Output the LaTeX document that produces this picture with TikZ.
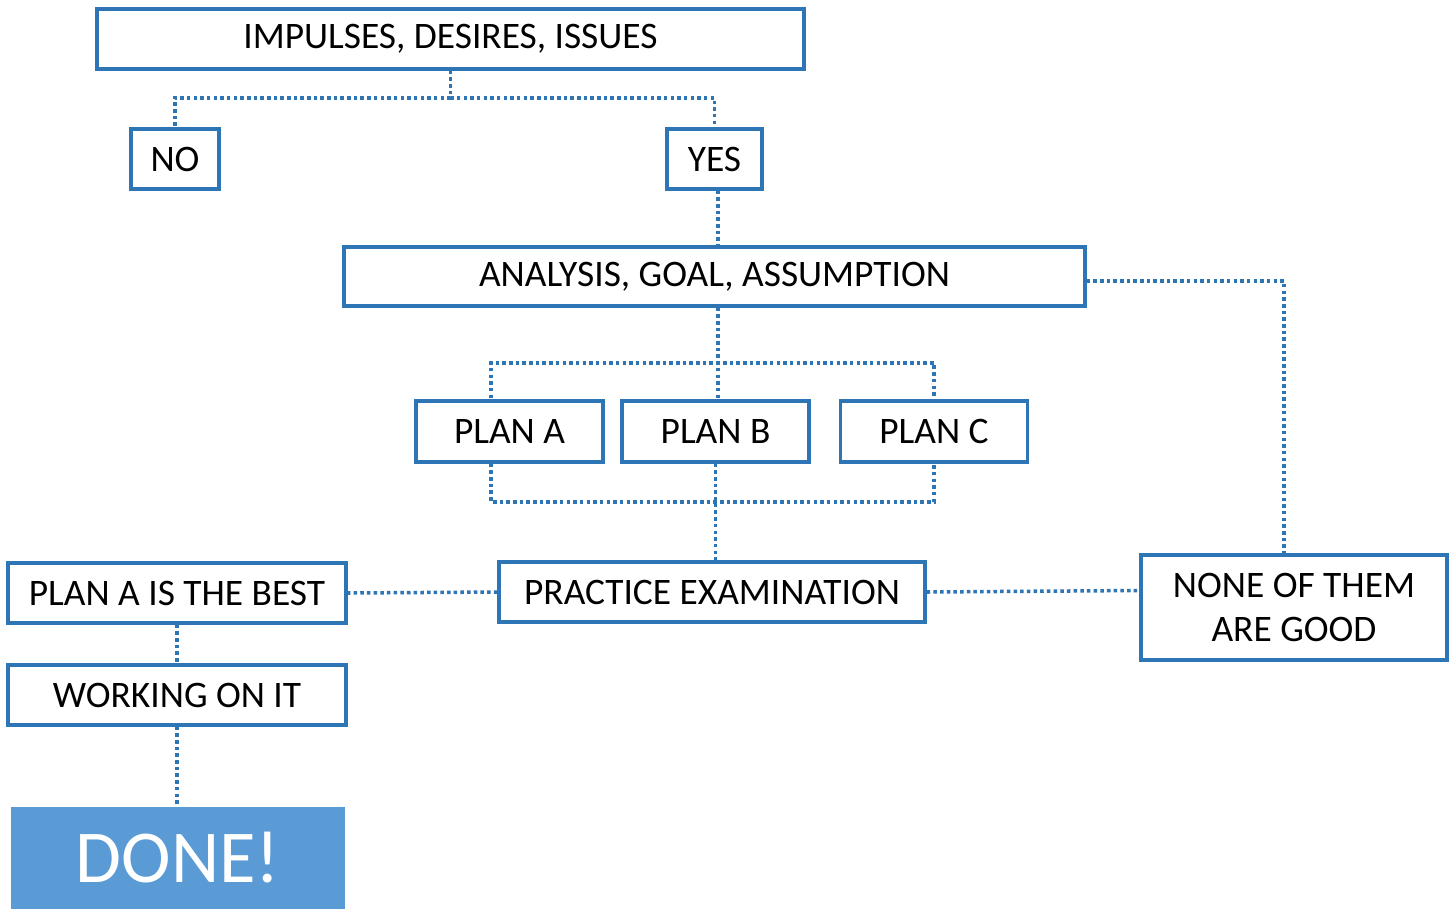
\documentclass[tikz,border=0pt]{standalone}
\usepackage{fontspec}
\setmainfont{Carlito}
\definecolor{boxblue}{HTML}{2E75B6}
\definecolor{donefill}{HTML}{5B9BD5}
\tikzset{
  box/.style={draw=boxblue, line width=2pt, fill=white, inner sep=0pt, minimum height=1.2cm, font=\fontsize{21.3}{25.5}\selectfont, align=center},
  link/.style={draw=boxblue, line width=2pt, dash pattern=on 2pt off 1.8pt},
}
\begin{document}
\begin{tikzpicture}[x=0.02cm,y=-0.02cm]
    \useasboundingbox (0,0) rectangle (1452,909);
    % Top row
    \node[box, minimum width=14.14cm] (imp) at (450.5,39) {IMPULSES, DESIRES, ISSUES};
    \node[box, minimum width=1.76cm] (no) at (175,159) {NO};
    \node[box, minimum width=1.9cm] (yes) at (714.5,159) {YES};
    % Analysis and plans
    \node[box, minimum width=14.82cm, minimum height=1.18cm] (ana) at (714.5,276.5) {ANALYSIS, GOAL, ASSUMPTION};
    \node[box, minimum width=3.74cm, minimum height=1.22cm] (pa) at (509.5,431.5) {PLAN A};
    \node[box, minimum width=3.74cm, minimum height=1.22cm] (pb) at (715.5,431.5) {PLAN B};
    \node[box, minimum width=3.74cm, minimum height=1.22cm] (pc) at (934,431.5) {PLAN C};
    % Examination row
    \node[box, minimum width=8.52cm] (prac) at (712,592) {PRACTICE EXAMINATION};
    \node[box, minimum width=6.76cm] (best) at (177,593) {PLAN A IS THE BEST};
    \node[box, minimum width=6.12cm, minimum height=2.1cm] (none) at (1294,607.5) {NONE OF THEM\\ARE GOOD};
    \node[box, minimum width=6.76cm] (work) at (177,695) {WORKING ON IT};
    % Done
    \node[fill=donefill, text=white, inner sep=0pt, minimum width=6.68cm, minimum height=2.04cm, font=\fontsize{42.5}{50}\selectfont] (done) at (178,858) {DONE!};
    % Connectors
    \draw[link] (imp.south) -- ++(0,27) -| (no.north);
    \draw[link] (imp.south) -- ++(0,27) -| (yes.north);
    \draw[link] ([xshift=0.07cm]yes.south) -- ([xshift=0.07cm]yes.south |- ana.north);
    \draw[link] ([xshift=0.07cm]ana.south) -- ++(0,55) -| ([xshift=-0.37cm]pa.north);
    \draw[link] ([xshift=0.07cm]ana.south) -- ++(0,55) -| (pc.north);
    \draw[link] ([xshift=0.07cm]ana.south) -- ([xshift=0.07cm]ana.south |- pb.north);
    \draw[link] ([xshift=-0.37cm]pa.south) -- ++(0,38) -| (pc.south);
    \draw[link] (pb.south) -- (pb.south |- prac.north);
    \draw[link] ([yshift=-0.09cm]ana.east) -| ([xshift=-0.2cm]none.north);
    \draw[link] (prac.west) -- (best.east);
    \draw[link] (prac.east) -- ([yshift=0.34cm]none.west);
    \draw[link] (best.south) -- (work.north);
    \draw[link] (work.south) -- (work.south |- done.north);
\end{tikzpicture}
\end{document}
